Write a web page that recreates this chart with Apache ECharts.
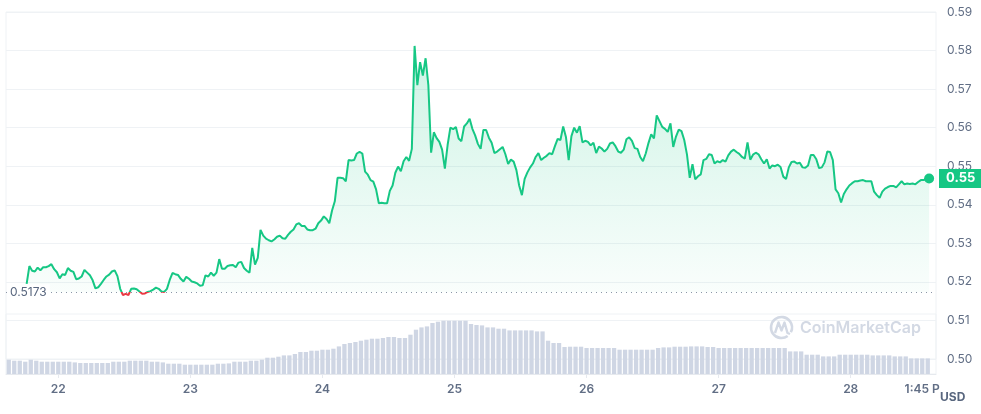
<!DOCTYPE html>
<html>
<head>
<meta charset="utf-8">
<script src="https://cdn.jsdelivr.net/npm/echarts@6/dist/echarts.min.js"></script>
<style>html,body{margin:0;padding:0;background:#fff}#c{width:981px;height:414px}</style>
</head>
<body>
<div id="c"></div>
<script>
// ---- data ----
const startDay = 21, startHour = 15;
const hourSlots = 169, halfSlots = 338;
// hourly categories (volume axis, day ticks)
const hours = [];
for (let i = 0; i < hourSlots; i++) {
  const t = startHour + i;
  hours.push((startDay + Math.floor(t / 24)) + ' ' + String(t % 24).padStart(2, '0') + ':00');
}
// half-hourly categories (price axis)
const halfHours = [];
for (let j = 0; j < halfSlots; j++) {
  const m = startHour * 60 + j * 30;
  const h = Math.floor(m / 60);
  halfHours.push((startDay + Math.floor(h / 24)) + ' ' + String(h % 24).padStart(2, '0') + ':' + String(m % 60).padStart(2, '0'));
}
const price = [
  null, null, null, null, null, null, null, 0.5195, 0.5241, 0.5229,
  0.5227, 0.5237, 0.5230, 0.5238, 0.5238, 0.5241, 0.5246, 0.5233, 0.5225, 0.5209,
  0.5220, 0.5218, 0.5236, 0.5229, 0.5226, 0.5207, 0.5209, 0.5214, 0.5231, 0.5224,
  0.5217, 0.5204, 0.5183, 0.5186, 0.5195, 0.5205, 0.5214, 0.5219, 0.5227, 0.5230,
  0.5215, 0.5182, 0.5166, 0.5169, 0.5166, 0.5182, 0.5183, 0.5181, 0.5175, 0.5169,
  0.5170, 0.5174, 0.5176, 0.5180, 0.5185, 0.5182, 0.5175, 0.5174, 0.5182, 0.5205,
  0.5223, 0.5220, 0.5218, 0.5208, 0.5201, 0.5213, 0.5208, 0.5201, 0.5199, 0.5196,
  0.5190, 0.5191, 0.5217, 0.5214, 0.5224, 0.5216, 0.5224, 0.5259, 0.5234, 0.5234,
  0.5241, 0.5243, 0.5244, 0.5238, 0.5250, 0.5252, 0.5236, 0.5229, 0.5224, 0.5288,
  0.5245, 0.5262, 0.5335, 0.5320, 0.5312, 0.5308, 0.5305, 0.5310, 0.5317, 0.5320,
  0.5313, 0.5312, 0.5322, 0.5330, 0.5336, 0.5349, 0.5352, 0.5345, 0.5345, 0.5336,
  0.5334, 0.5334, 0.5338, 0.5352, 0.5359, 0.5370, 0.5363, 0.5352, 0.5385, 0.5409,
  0.5470, 0.5470, 0.5469, 0.5461, 0.5516, 0.5515, 0.5516, 0.5533, 0.5537, 0.5533,
  0.5486, 0.5478, 0.5464, 0.5460, 0.5440, 0.5404, 0.5405, 0.5404, 0.5404, 0.5436,
  0.5450, 0.5483, 0.5499, 0.5487, 0.5513, 0.5524, 0.5514, 0.5545, 0.5812, 0.5710,
  0.5770, 0.5735, 0.5780, 0.5710, 0.5535, 0.5588, 0.5573, 0.5563, 0.5543, 0.5494,
  0.5555, 0.5600, 0.5596, 0.5602, 0.5572, 0.5565, 0.5603, 0.5611, 0.5623, 0.5597,
  0.5580, 0.5558, 0.5545, 0.5594, 0.5594, 0.5574, 0.5561, 0.5534, 0.5538, 0.5544,
  0.5550, 0.5531, 0.5506, 0.5517, 0.5512, 0.5490, 0.5450, 0.5425, 0.5467, 0.5484,
  0.5497, 0.5507, 0.5524, 0.5534, 0.5516, 0.5522, 0.5527, 0.5534, 0.5531, 0.5552,
  0.5571, 0.5568, 0.5603, 0.5576, 0.5516, 0.5578, 0.5600, 0.5587, 0.5604, 0.5562,
  0.5566, 0.5563, 0.5554, 0.5561, 0.5534, 0.5551, 0.5546, 0.5538, 0.5545, 0.5559,
  0.5562, 0.5552, 0.5538, 0.5535, 0.5543, 0.5570, 0.5575, 0.5566, 0.5547, 0.5545,
  0.5524, 0.5513, 0.5533, 0.5560, 0.5583, 0.5572, 0.5632, 0.5617, 0.5602, 0.5597,
  0.5589, 0.5611, 0.5550, 0.5577, 0.5595, 0.5591, 0.5568, 0.5530, 0.5470, 0.5505,
  0.5466, 0.5474, 0.5479, 0.5516, 0.5519, 0.5531, 0.5529, 0.5507, 0.5513, 0.5510,
  0.5516, 0.5512, 0.5528, 0.5538, 0.5543, 0.5537, 0.5532, 0.5524, 0.5520, 0.5562,
  0.5517, 0.5530, 0.5535, 0.5531, 0.5518, 0.5507, 0.5518, 0.5494, 0.5502, 0.5500,
  0.5504, 0.5498, 0.5473, 0.5467, 0.5497, 0.5511, 0.5512, 0.5507, 0.5509, 0.5497,
  0.5496, 0.5502, 0.5529, 0.5529, 0.5518, 0.5495, 0.5497, 0.5510, 0.5538, 0.5537,
  0.5516, 0.5440, 0.5430, 0.5406, 0.5428, 0.5440, 0.5450, 0.5456, 0.5461, 0.5461,
  0.5463, 0.5464, 0.5461, 0.5461, 0.5461, 0.5434, 0.5425, 0.5418, 0.5434, 0.5442,
  0.5446, 0.5449, 0.5449, 0.5445, 0.5453, 0.5461, 0.5453, 0.5455, 0.5454, 0.5455,
  0.5453, 0.5459, 0.5464, 0.5464, 0.5468, 0.5468, null, null
];
const volume = [
  14.3, 13.3, 13.3, 12.3, 14.3, 13.3, 12.3, 12.3, 12.3, 12.3, 12.3, 12.3, 11.6, 11, 11, 11,
  11, 11, 11, 12.3, 12.3, 12.3, 13.3, 13.3, 13.3, 13.3, 12.3, 12.3, 11.6, 10.3, 10.3, 10.3,
  9.3, 9.3, 9.3, 9.3, 9.3, 9.3, 10.3, 10.3, 10.6, 12.3, 12.3, 12.3, 13.3, 13.3, 14.3, 16.3,
  16.3, 17.3, 18.6, 18.6, 20, 22, 22, 23.3, 23.3, 24.3, 24.3, 25.3, 27.6, 30, 31, 32,
  33.3, 34.3, 35.3, 35.3, 36, 37, 37, 36, 36, 39.3, 44.3, 46.6, 47.6, 51, 52.3, 53.3,
  53.3, 53.3, 53.3, 53.3, 50, 49, 48.6, 46.6, 46.6, 45.3, 45.3, 43.6, 43.6, 43.6, 43.6, 43.6,
  42.6, 42.6, 33.3, 31, 31, 27, 27.3, 27.3, 27.3, 26, 26, 26, 26, 26, 26, 24.3,
  24.3, 24.3, 24.3, 24.3, 24.3, 24.3, 26, 26.6, 26.6, 27.3, 27.3, 27.3, 27.6, 27.6, 27.6, 27,
  27, 26, 26, 26, 26, 26, 26, 26, 26, 26, 26, 26, 26, 26, 22.6, 22.6,
  22.6, 19.3, 19.3, 19.3, 17.6, 17.6, 17.6, 19.3, 19.3, 19.3, 19.3, 19.3, 19.3, 18.6, 18.6, 18.6,
  18.6, 17.6, 17.6, 17.6, 15.6, 15.6, 15.6, 15.6,
  null
];
const baseline = 0.5173;
const priceTicks = ['0.50', '0.51', '0.52', '0.53', '0.54', '0.55', '0.56', '0.57', '0.58', '0.59'];
const endLabel = '1:45 PM';
const unitLabel = 'USD';
const watermark = 'CoinMarketCap';

// ---- chart ----
const GREEN = '#16c784', RED = '#ea3943';
let lastIdx = price.length - 1;
while (price[lastIdx] == null) lastIdx--;
let lastVolIdx = volume.length - 1;
while (volume[lastVolIdx] == null) lastVolIdx--;
const FONT = 'Inter';
const chart = echarts.init(document.getElementById('c'), null, { renderer: 'canvas' });
const isMidnight = (idx) => hours[idx].endsWith(' 00:00');

const option = {
  animation: false,
  backgroundColor: '#fff',
  textStyle: { fontFamily: FONT },
  grid: [
    { left: 6, right: 45, top: 12, height: 347, show: true, borderColor: '#eff2f5', borderWidth: 1 },
    { left: 6, right: 45, top: 314, height: 60, show: true, borderColor: '#eff2f5', borderWidth: 1 }
  ],
  xAxis: [
    { type: 'category', gridIndex: 0, data: halfHours, boundaryGap: true, show: false },
    {
      type: 'category', gridIndex: 1, data: hours, boundaryGap: true,
      axisLine: { lineStyle: { color: '#e6e9ee' } },
      axisTick: { show: true, interval: (i) => isMidnight(i), alignWithLabel: true, length: 4, lineStyle: { color: '#e6e9ee' } },
      axisLabel: {
        interval: (i) => isMidnight(i), margin: 9,
        formatter: (v) => v.split(' ')[0],
        color: '#616e85', fontSize: 12, fontWeight: 600, fontFamily: FONT
      }
    }
  ],
  yAxis: [
    {
      type: 'value', gridIndex: 0, position: 'right', min: 0.50, max: 0.59, interval: 0.01,
      axisLine: { show: false }, axisTick: { show: false },
      splitLine: { lineStyle: { color: '#eff2f5' } },
      axisLabel: {
        margin: 11, color: '#616e85', fontSize: 12, fontFamily: FONT,
        formatter: (v) => priceTicks[Math.round((v - 0.50) * 100)] || ''
      }
    },
    { type: 'value', gridIndex: 1, min: 0, max: 60, show: false, splitLine: { show: false } }
  ],
  visualMap: {
    type: 'piecewise', show: false, seriesIndex: 0, dimension: 1,
    pieces: [
      { gte: 0.40, lt: baseline, color: RED },
      { gte: baseline, lte: 0.70, color: GREEN }
    ],
    outOfRange: { color: GREEN }
  },
  series: [
    {
      name: 'Price', type: 'line', xAxisIndex: 0, yAxisIndex: 0, data: price,
      showSymbol: false, symbol: 'none', connectNulls: false, z: 5,
      lineStyle: { width: 2 },
      areaStyle: {
        origin: baseline,
        color: new echarts.graphic.LinearGradient(0, 0, 0, 1, [
          { offset: 0, color: 'rgba(22,199,132,0.30)' },
          { offset: 1, color: 'rgba(22,199,132,0.03)' }
        ])
      },
      markLine: {
        silent: true, symbol: ['none', 'none'], animation: false, precision: 4,
        data: [
          { yAxis: baseline, lineStyle: { color: '#8a94a6', type: [1, 4], width: 1 }, label: { show: false } }
        ]
      },
      markPoint: {
        silent: true, symbol: 'circle', symbolSize: 10, label: { show: false },
        itemStyle: { color: GREEN },
        data: [{ coord: [halfHours[lastIdx], price[lastIdx]] }]
      }
    },
    {
      name: 'Volume', type: 'bar', xAxisIndex: 1, yAxisIndex: 1, data: volume,
      barCategoryGap: '22%', itemStyle: { color: '#cfd6e4' }, silent: true
    }
  ]
};
chart.setOption(option);

// ---- text overlays positioned through the chart's own scales ----
const yBase = chart.convertToPixel({ yAxisIndex: 0 }, baseline);
const yLast = chart.convertToPixel({ yAxisIndex: 0 }, price[lastIdx]);
const xEnd = chart.convertToPixel({ xAxisIndex: 1 }, hours[lastVolIdx]);
const yAxisBottom = chart.convertToPixel({ yAxisIndex: 1 }, 0);
const gridRightPx = chart.getWidth() - 45;
const ctx = document.createElement('canvas').getContext('2d');
ctx.font = '600 12px ' + FONT;
const endW = ctx.measureText(endLabel).width;
const endX = xEnd - endW / 2;
const partW = ctx.measureText(endLabel.slice(0, 6)).width;

chart.setOption({
  graphic: [
    {
      type: 'text', x: 7, y: yBase, z: 100,
      style: {
        text: baseline.toFixed(4), fill: '#58667e', font: '12px ' + FONT,
        verticalAlign: 'middle', backgroundColor: '#fff', padding: [2, 3, 2, 3]
      }
    },
    {
      type: 'text', x: endX, y: yAxisBottom + 9, z: 100,
      style: {
        text: endLabel, fill: '#616e85', font: '600 12px ' + FONT, verticalAlign: 'top',
        width: partW + 1, overflow: 'truncate', ellipsis: ''
      }
    },
    {
      type: 'rect', z: 101,
      shape: { x: gridRightPx + 3, y: yLast - 9.5, width: 46, height: 19 },
      style: { fill: GREEN }
    },
    {
      type: 'text', x: gridRightPx + 10, y: yLast, z: 102,
      style: { text: price[lastIdx].toFixed(2), fill: '#fff', font: '700 13px ' + FONT, verticalAlign: 'middle' }
    },
    {
      type: 'text', x: 940, y: 397, z: 100,
      style: { text: unitLabel, fill: '#58667e', font: '700 12px ' + FONT, verticalAlign: 'middle' }
    },
    {
      type: 'group', z: 1, silent: true,
      children: [
        { type: 'arc', shape: { cx: 781.5, cy: 327.5, r: 10.5, startAngle: Math.PI * 0.3, endAngle: Math.PI * 2.15 },
          style: { stroke: '#d3d9e4', lineWidth: 2.6, fill: null } },
        { type: 'polyline', shape: { points: [[775, 333], [778.5, 322.5], [781.5, 330.5], [784.5, 322.5], [787.5, 333], [790, 334]] },
          style: { stroke: '#d3d9e4', lineWidth: 2.4, fill: null, lineJoin: 'round' } },
        { type: 'text', x: 800, y: 328.5,
          style: { text: watermark, fill: '#d3d9e4', font: '600 16px ' + FONT, verticalAlign: 'middle' } }
      ]
    }
  ]
});
</script>
</body>
</html>
